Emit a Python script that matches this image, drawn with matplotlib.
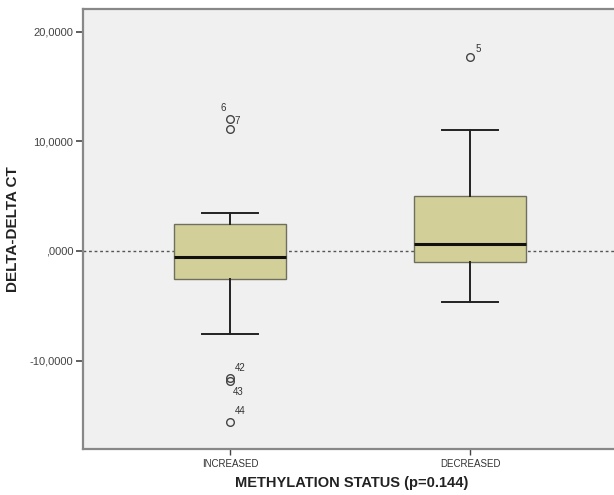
import matplotlib
matplotlib.use("Agg")
import matplotlib.pyplot as plt

plt.rcParams["font.family"] = ["Liberation Sans", "DejaVu Sans"]

# group names and box statistics
groups = ["INCREASED", "DECREASED"]
q1 = [-2.55, -1.00]
median = [-0.55, 0.64]
q3 = [2.46, 5.01]
whislo = [-7.57, -4.65]
whishi = [3.47, 11.03]

# outliers per group, with case labels
outlier_vals = [[12.0, 11.1, -11.6, -11.85, -15.6], [17.68]]
outlier_ids = [["6", "7", "42", "43", "44"], ["5"]]
# label offsets in pixels relative to the circle
label_offsets = [[(-7, 11), (7, 8), (10, 10), (8, -11), (10, 11)], [(8, 8)]]

yticks = [-10, 0, 10, 20]
ytick_labels = ["-10,0000", ",0000", "10,0000", "20,0000"]

BG = "#f0f0f0"
BOX = "#d3cf99"

fig = plt.figure(figsize=(6.14, 4.95), dpi=100)
ax = fig.add_axes([83 / 614, 46 / 495, 537 / 614, 440 / 495])
ax.set_facecolor(BG)

positions = [1, 2]
stats = []
for i, g in enumerate(groups):
    stats.append(dict(label=g, q1=q1[i], med=median[i], q3=q3[i],
                      whislo=whislo[i], whishi=whishi[i], fliers=outlier_vals[i]))

ax.axhline(0, color="#555555", linestyle=(0, (2, 2)), linewidth=1.0, zorder=1)

ax.bxp(stats, positions=positions, widths=0.47, patch_artist=True,
       boxprops=dict(facecolor=BOX, edgecolor="#6f6f60", linewidth=1.0),
       medianprops=dict(color="#111111", linewidth=2.2),
       whiskerprops=dict(color="#222222", linewidth=1.4),
       capprops=dict(color="#222222", linewidth=1.4),
       capwidths=0.235,
       flierprops=dict(marker="o", markerfacecolor="none", markeredgecolor="#444444",
                       markersize=5.5, markeredgewidth=1.0),
       zorder=2)

for i, pos in enumerate(positions):
    for v, lab, off in zip(outlier_vals[i], outlier_ids[i], label_offsets[i]):
        ax.annotate(lab, (pos, v), xytext=off, textcoords="offset pixels",
                    ha="center", va="center", fontsize=7, color="#333333")

ax.set_xlim(0.3875, 2.625)
ax.set_ylim(-18.05, 22.06)
ax.set_yticks(yticks)
ax.set_yticklabels(ytick_labels, fontsize=8, color="#444444")
ax.set_xticks(positions)
ax.set_xticklabels(groups, fontsize=7, color="#333333")
ax.tick_params(axis="y", length=5, width=1.2, color="#444444", pad=2)
ax.tick_params(axis="x", length=4, width=1.0, color="#444444", pad=3)

for side in ["left", "top", "bottom"]:
    ax.spines[side].set_color("#888888")
    ax.spines[side].set_linewidth(1.6)
ax.spines["right"].set_visible(False)

ax.set_ylabel("DELTA-DELTA CT", fontsize=11, fontweight="bold", color="#222222")
ax.yaxis.set_label_coords(-0.117, 0.5)
ax.set_xlabel("METHYLATION STATUS (p=0.144)", fontsize=10.5, fontweight="bold",
              color="#222222", labelpad=5)

fig.savefig("out.png", dpi=100)
